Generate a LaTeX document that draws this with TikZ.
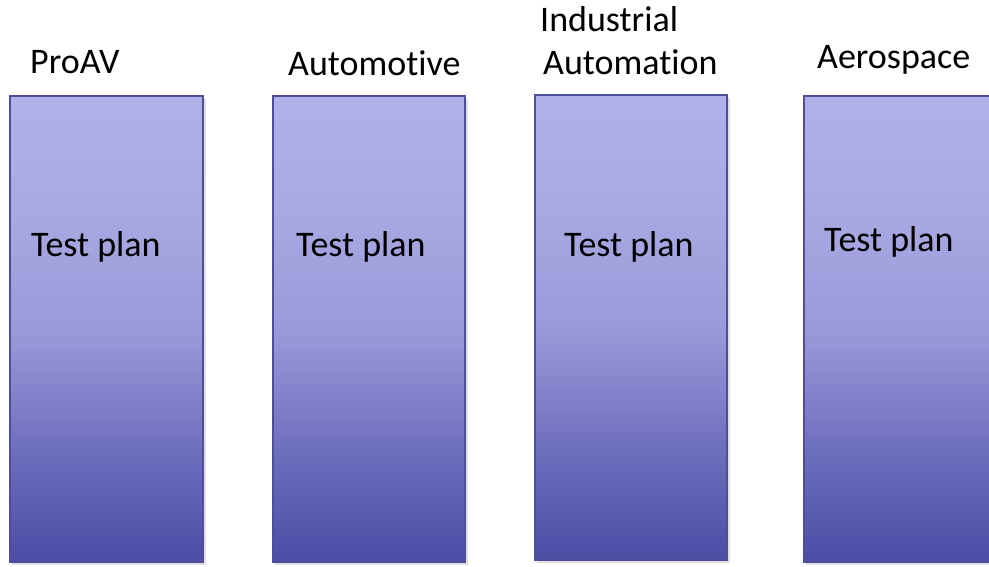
\documentclass[tikz,border=0pt]{standalone}
\usepackage{fontspec}
\setmainfont[Ligatures=NoCommon]{Carlito}
\definecolor{barTop}{HTML}{B0B0EA}
\definecolor{barUp}{HTML}{A8A8E2}
\definecolor{barMid}{HTML}{9A9ADA}
\definecolor{barLow}{HTML}{7070C0}
\definecolor{barBot}{HTML}{4C4CA5}
\definecolor{barEdge}{HTML}{4E4E9A}
\pgfdeclareverticalshading{barshade}{100bp}{color(0bp)=(barBot); color(25bp)=(barBot); color(37.5bp)=(barLow); color(50bp)=(barMid); color(62.5bp)=(barUp); color(75bp)=(barTop); color(100bp)=(barTop)}
\tikzset{
  bar/.style={draw=barEdge, line width=1.3pt, shading=barshade, inner sep=0pt},
  barshadow/.style={fill=black, fill opacity=0.12, draw=none},
  lbl/.style={anchor=base west, inner sep=0pt, font=\fontsize{36}{43}\selectfont, text=black}
}
\begin{document}
\begin{tikzpicture}[x=1pt,y=1pt]
\useasboundingbox (0,0) rectangle (989,566);
\clip (0,0) rectangle (989,566);
\fill[white] (0,0) rectangle (989,566);
% shadows
\foreach \a/\b/\t/\u in {10/203/4/470, 273/465/4/470, 535/727/6/471, 804/996/4/470}{
  \fill[barshadow] (\a+2,\t-3) rectangle (\b+3,\u-3);
}
\path[bar] (10,4) rectangle (203,470) node[pos=0,inner sep=0pt] (b1) {};
\path[bar] (273,4) rectangle (465,470) node[pos=0,inner sep=0pt] (b2) {};
\path[bar] (535,6) rectangle (727,471) node[pos=0,inner sep=0pt] (b3) {};
\path[bar] (804,4) rectangle (996,470) node[pos=0,inner sep=0pt] (b4) {};
% header labels
\node[lbl] (h1) at (30,492) {ProAV};
\node[lbl] (h2) at (288,490) {Automotive};
\node[lbl] (h3a) at (540,534) {Industrial};
\node[lbl] (h3b) at (543,491) {Automation};
\node[lbl] (h4) at (817,497) {Aerospace};
% body labels
\node[lbl] (t1) at (31,309) {Test plan};
\node[lbl] (t2) at (296,309) {Test plan};
\node[lbl] (t3) at (564,309) {Test plan};
\node[lbl] (t4) at (824,314) {Test plan};
\end{tikzpicture}
\end{document}
